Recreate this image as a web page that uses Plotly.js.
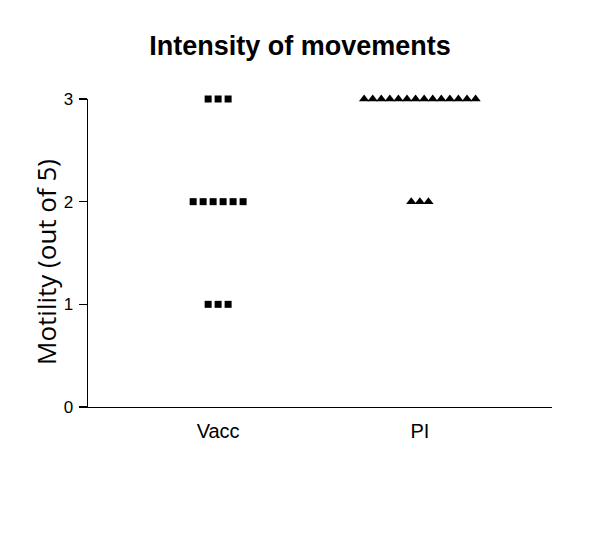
<!DOCTYPE html>
<html>
<head>
<meta charset="utf-8">
<script src="https://cdn.plot.ly/plotly-3.0.1.min.js"></script>
<style>html,body{margin:0;padding:0;background:#fff;}#chart{width:600px;height:548px;}</style>
</head>
<body>
<div id="chart"></div>
<script>
// Data
const categories = ["Vacc", "PI"];
const vaccScores = [3,3,3, 2,2,2,2,2,2, 1,1,1];
const piScores = [3,3,3,3,3,3,3,3,3,3,3,3,3,3, 2,2,2];
const yTicks = [0, 1, 2, 3];
const yTitle = 'Motility (out of 5)';
const chartTitle = 'Intensity of movements';

// Simple dot-plot layout: spread equal values horizontally around the category centre
function spread(values, catIndex, step) {
  const counts = {};
  values.forEach(v => counts[v] = (counts[v] || 0) + 1);
  const seen = {};
  const xs = [];
  values.forEach(v => {
    const i = seen[v] || 0;
    seen[v] = i + 1;
    xs.push(catIndex + (i - (counts[v] - 1) / 2) * step);
  });
  return xs;
}

const traces = [
  {
    x: spread(vaccScores, 0, 0.0495),
    y: vaccScores,
    type: 'scatter', mode: 'markers', cliponaxis: false,
    marker: {symbol: 'square', size: 7, color: '#000'},
    hoverinfo: 'none', showlegend: false
  },
  {
    x: spread(piScores, 1, 0.0425),
    y: piScores,
    type: 'scatter', mode: 'markers', cliponaxis: false,
    marker: {symbol: 'triangle-up', size: 9, color: '#000'},
    hoverinfo: 'none', showlegend: false
  }
];

const layout = {
  width: 600, height: 548,
  paper_bgcolor: '#fff', plot_bgcolor: '#fff',
  margin: {l: 88, r: 48, t: 99, b: 141},
  title: {
    text: '<b>' + chartTitle + '</b>',
    font: {family: 'Liberation Sans, Arial, sans-serif', size: 27, color: '#000'},
    x: 0.5, xref: 'container', xanchor: 'center', y: 0.917, yref: 'container', yanchor: 'middle'
  },
  xaxis: {
    range: [-0.645, 1.655],
    tickmode: 'array', tickvals: [0, 1], ticktext: categories,
    showgrid: false, zeroline: false,
    showline: true, linecolor: '#000', linewidth: 1.3,
    ticks: '', tickfont: {family: 'Liberation Sans, Arial, sans-serif', size: 20, color: '#000'},
    ticklabelstandoff: 6
  },
  yaxis: {
    range: [0, 3],
    tickmode: 'array', tickvals: yTicks, ticktext: yTicks.map(String),
    showgrid: false, zeroline: false,
    showline: true, linecolor: '#000', linewidth: 1.3,
    ticks: 'outside', ticklen: 8, tickwidth: 1.3, tickcolor: '#000',
    tickfont: {family: 'Liberation Sans, Arial, sans-serif', size: 17, color: '#000'},
    ticklabelstandoff: 2
  },
  annotations: [{
    text: yTitle, textangle: -90, showarrow: false,
    xref: 'paper', yref: 'paper', x: -0.0905, y: 0.471,
    xanchor: 'center', yanchor: 'middle',
    font: {family: 'Open Sans, sans-serif', size: 26, color: '#000'}
  }]
};

Plotly.newPlot('chart', traces, layout, {displayModeBar: false, staticPlot: true});
</script>
</body>
</html>
